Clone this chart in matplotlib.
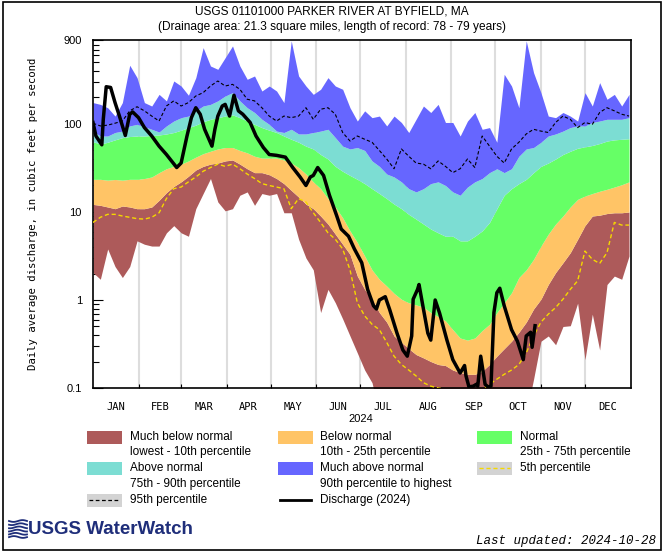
import numpy as np
import matplotlib
matplotlib.use("Agg")
import matplotlib.pyplot as plt
from matplotlib.patches import Rectangle
from matplotlib.lines import Line2D
from matplotlib import font_manager

# ---------------- data (day of year 2024, cfs) ----------------
days = list(range(1, 367, 5))

q_max = [175,167,153,123,175,465,336,175,160,217,183,308,270,212,336,737,456,418,567,770,456,322,351,237,270,
         237,175,880,351,270,217,248,336,270,248,153,108,141,118,123,95,123,104,80,113,160,135,167,104,
         104,73,108,135,87,91,62,367,270,153,880,383,227,123,118,135,123,108,227,160,295,191,217,160,217]
q_p95 = [102,95,97,102,108,141,157,141,123,108,160,183,160,175,208,227,270,308,270,282,248,191,183,153,123,
         108,123,118,123,153,113,147,153,129,80,64,73,67,62,50,40,31,52,43,36,35,31,38,33,
         28,31,40,32,73,56,43,36,52,62,77,87,83,80,104,123,113,91,104,99,135,153,141,129,123]
q_p90 = [83,73,73,80,83,95,99,93,87,81,95,108,118,123,141,160,167,183,208,227,183,153,135,113,99,
         83,80,87,77,77,80,83,87,70,56,52,54,50,38,33,27,25,22,18.4,16.9,18.4,21,22,20,
         16.9,15.5,19.2,22,24,28,31,28,31,43,52,54,62,73,77,83,91,95,95,104,108,113,113,113,118]
q_p75 = [63,59,62,66,70,72,73,73,74,75,77,80,85,91,97,106,113,118,123,127,118,108,99,91,85,
         80,73,67,62,56,52,45,40,33,29,26,23.5,21,18.4,16.2,14.2,12.3,10.9,9.4,8.3,7.3,6.4,5.8,5.3,
         5.3,4.7,4.7,5.3,6.1,7.6,10.9,15.5,18.4,21,23.5,28,33,36,40,45,49,53,55,57,60,64,66,67,68]
q_p25 = [23.5,23.5,23,23.4,23,23.5,23.5,24,25,28,31,33,35,38,42,46,49,52,54,54,50,47,43,41,41,
         41,39,36,32,27,22,18.4,14.2,11.4,8.6,6.1,4.5,3.16,2.2,1.72,1.44,1.19,1.02,0.93,0.88,0.83,0.72,0.65,0.58,
         0.46,0.37,0.35,0.37,0.45,0.53,0.72,0.93,1.21,1.8,2.2,2.9,4.1,5.6,7.3,9.0,11.4,13.9,15.2,16.2,17.2,18.1,19.2,20.4,22]
q_p10 = [12.2,11.9,11.4,10.9,11.7,11.4,10.9,10.9,11.4,13.6,16.6,19.5,22,25.5,30,33,35,36,38,39,35,31,28,28,26.5,
         24,21,17.6,14.8,12.3,10.9,9.0,7.3,5.6,4.3,3.3,1.87,1.32,1.02,0.72,0.56,0.39,0.33,0.28,0.24,0.22,0.20,0.185,0.18,
         0.16,0.15,0.143,0.143,0.155,0.185,0.23,0.28,0.34,0.43,0.56,0.79,1.02,1.5,2.05,2.65,3.45,4.9,7.0,9.0,9.2,9.6,9.8,9.8,10]
q_p05 = [7.6,8.7,9.4,9.4,9.0,8.7,8.4,8.3,8.7,9.8,14.2,18.4,19.2,22,25,29,32,35,33,35,31,27,24,21,20,
         19.2,18.4,10.9,14.2,13,9.8,7.6,5.8,4.9,3.8,2.2,0.93,0.66,0.53,0.46,0.33,0.23,0.185,0.16,0.137,0.115,0.105,0.1,0.097,
         0.075,0.078,0.081,0.089,0.097,0.11,0.126,0.143,0.16,0.185,0.25,0.39,0.56,0.69,0.82,1.02,1.32,1.65,3.6,2.9,2.6,3.45,7.6,7.1,7.1]
q_min = [2.05,1.72,3.8,2.4,1.8,2.4,4.7,4.3,4.1,4.1,5.8,7.0,5.8,5.3,10.9,16.2,24,13,10.3,10.9,15.5,16.9,11.9,16.2,15.5,
         16.2,9.8,9.8,4.9,3.0,2.2,0.72,1.32,0.93,0.61,0.39,0.25,0.16,0.115,0.05,0.05,0.05,0.05,0.05,0.05,0.05,0.05,0.05,0.05,
         0.05,0.05,0.05,0.05,0.05,0.05,0.05,0.05,0.05,0.05,0.05,0.126,0.34,0.39,0.31,0.5,0.51,0.92,0.21,0.69,0.27,1.5,1.87,1.72,3.16]

flow_days = [1,3,7,8,10,13,16,19,23,26,28,32,36,41,46,51,58,61,65,68,71,74,77,82,84,86,89,91,94,97,
             100,103,108,112,117,121,126,132,137,142,146,149,151,154,158,162,167,170,175,179,
             184,188,192,194,196,200,203,208,212,215,218,219,222,223,226,229,231,234,237,242,
             246,251,254,255,257,260,262,263,265,268,270,272,274,276,278,281,286,290,294,296,299,300,302]
flow_cfs = [104,73,58,113,265,260,175,123,74,129,137,118,91,73,56,45,32,36,73,118,153,129,87,56,87,123,160,167,123,212,
            141,129,104,73,54,45,44,42,32,25,20,25,26,32,26,15.5,9.0,6.4,5.3,3.8,
            2.65,1.32,0.86,0.79,1.0,1.09,0.78,0.42,0.27,0.23,0.39,1.02,1.32,1.5,0.79,0.42,0.35,1.0,0.71,0.35,
            0.21,0.148,0.18,0.137,0.103,0.105,0.11,0.105,0.23,0.11,0.103,0.105,0.72,1.21,1.36,0.86,0.46,0.34,0.21,0.39,0.43,0.29,0.51]

month_names = ["JAN","FEB","MAR","APR","MAY","JUN","JUL","AUG","SEP","OCT","NOV","DEC"]
month_starts = [1,32,61,92,122,153,183,214,245,275,306,336,367]
y_ticks = [0.1, 1, 10, 100, 900]
y_ticklabels = ["0.1", "1", "10", "100", "900"]

# ---------------- colours ----------------
C_MUCHBELOW = "#AD5A5A"
C_BELOW = "#FFC466"
C_NORMAL = "#66FF66"
C_ABOVE = "#7CDDD3"
C_MUCHABOVE = "#6666FF"
C_P05 = "#F5D800"

W, H = 666, 555
fig = plt.figure(figsize=(W/100, H/100), dpi=100)
fig.patch.set_facecolor("white")

ax = fig.add_axes([93/W, 1-388/H, (630.5-93)/W, (388-40)/H])
ax.set_yscale("log")
ax.set_xlim(1, 367)
ax.set_ylim(0.1, 900)

ax.fill_between(days, q_min, q_p10, color=C_MUCHBELOW, lw=0, zorder=2)
ax.fill_between(days, q_p10, q_p25, color=C_BELOW, lw=0, zorder=2)
ax.fill_between(days, q_p25, q_p75, color=C_NORMAL, lw=0, zorder=2)
ax.fill_between(days, q_p75, q_p90, color=C_ABOVE, lw=0, zorder=2)
ax.fill_between(days, q_p90, q_max, color=C_MUCHABOVE, lw=0, zorder=2)
ax.plot(days, q_p05, color=C_P05, lw=1.0, ls=(0, (3, 2)), zorder=3)
ax.plot(days, q_p95, color="black", lw=0.8, ls=(0, (3, 2)), zorder=3)
ax.plot(flow_days, flow_cfs, color="black", lw=2.5, zorder=4, solid_joinstyle="round")

# grid and ticks
for d in month_starts[1:-1]:
    ax.axvline(d, color="#DDDDDD", lw=1.5, zorder=0)
ax.set_xticks(month_starts[1:-1])
ax.set_xticklabels([])
ax.set_xticks([(month_starts[i]+month_starts[i+1])/2 for i in range(12)], minor=True)
ax.set_xticklabels(month_names, minor=True, fontfamily="DejaVu Sans Mono", fontsize=7.5)
ax.tick_params(axis="x", which="major", direction="in", length=3, width=0.8)
ax.tick_params(axis="x", which="minor", length=0, pad=10)

ax.set_yticks(y_ticks)
ax.set_yticklabels(y_ticklabels, fontfamily="Liberation Sans", fontsize=8)
minor = [m*10.0**e for e in range(-1, 3) for m in range(2, 10) if m*10.0**e < 900]
ax.set_yticks(minor, minor=True)
ax.yaxis.set_minor_formatter(matplotlib.ticker.NullFormatter())
ax.tick_params(axis="y", which="major", direction="in", length=7, width=0.8, pad=8)
ax.tick_params(axis="y", which="minor", direction="in", length=4, width=0.8)
for s in ax.spines.values():
    s.set_linewidth(1.2)
ax.set_ylabel("Daily average discharge, in cubic feet per second",
              fontfamily="DejaVu Sans Mono", fontsize=7.7)
ax.yaxis.set_label_coords(-(93-38)/(630.5-93), 0.5)

# ---------------- overlay for texts, legend, frame ----------------
ov = fig.add_axes([0, 0, 1, 1], zorder=5)
ov.set_xlim(0, W)
ov.set_ylim(H, 0)
ov.axis("off")
ov.patch.set_alpha(0)

ov.add_patch(Rectangle((3, 2), 658, 548, fill=False, ec="black", lw=1.2))

ov.text(332, 12, "USGS 01101000 PARKER RIVER AT BYFIELD, MA", ha="center", va="center",
        fontfamily="Liberation Sans", fontsize=8.6)
ov.text(332, 27, "(Drainage area: 21.3 square miles, length of record: 78 - 79 years)", ha="center",
        va="center", fontfamily="Liberation Sans", fontsize=8.6)
ov.text(361, 419, "2024", ha="center", va="center", fontfamily="Liberation Sans", fontsize=8)

def legend_patch(x, y, color):
    ov.add_patch(Rectangle((x, y-6.5), 35, 13, fc=color, ec="none"))

def legend_line(x, y, color, ls, lw, bg=True):
    if bg:
        ov.add_patch(Rectangle((x, y-6.5), 35, 13, fc="#D3D3D3", ec="none"))
    ov.add_line(Line2D([x+2, x+33], [y, y], color=color, ls=ls, lw=lw))

def legend_text(x, y, lines):
    for i, t in enumerate(lines):
        ov.text(x, y + i*15.5, t, ha="left", va="center", fontfamily="Liberation Sans", fontsize=8.5)

cols = [87, 278, 477]
rows = [437, 468, 500]
legend_patch(cols[0], rows[0], C_MUCHBELOW)
legend_text(cols[0]+43, rows[0], ["Much below normal", "lowest - 10th percentile"])
legend_patch(cols[1], rows[0], C_BELOW)
legend_text(cols[1]+42, rows[0], ["Below normal", "10th - 25th percentile"])
legend_patch(cols[2], rows[0], C_NORMAL)
legend_text(cols[2]+43, rows[0], ["Normal", "25th - 75th percentile"])
legend_patch(cols[0], rows[1], C_ABOVE)
legend_text(cols[0]+43, rows[1], ["Above normal", "75th - 90th percentile"])
legend_patch(cols[1], rows[1], C_MUCHABOVE)
legend_text(cols[1]+42, rows[1], ["Much above normal", "90th percentile to highest"])
legend_line(cols[2], rows[1], C_P05, (0, (3, 2)), 1.0)
legend_text(cols[2]+43, rows[1], ["5th percentile"])
legend_line(cols[0], rows[2], "black", (0, (3, 2)), 0.9)
legend_text(cols[0]+43, rows[2], ["95th percentile"])
legend_line(cols[1], rows[2], "black", "-", 2.0, bg=False)
legend_text(cols[1]+42, rows[2], ["Discharge (2024)"])

# logo
NAVY = "#1F2E7A"
for k in range(6):
    yy = 521 + k*3.2
    xs = np.linspace(9, 27, 20)
    ov.plot(xs, yy + 0.9*np.sin((xs-9)/18*2*np.pi + k*0.6), color=NAVY, lw=1.3)
names = {f.name for f in font_manager.fontManager.ttflist}
if "Liberation Sans Narrow" in names:
    logo_font, logo_size = "Liberation Sans Narrow", 16
else:
    logo_font, logo_size = "Liberation Sans", 13.5
ov.text(28, 530, "USGS WaterWatch", ha="left", va="center", fontfamily=logo_font,
        fontweight="bold", fontsize=logo_size, color=NAVY)

ov.text(656, 541, "Last updated: 2024-10-28", ha="right", va="center", fontfamily="Liberation Mono",
        fontstyle="italic", fontsize=9)

fig.savefig("out.png", dpi=100, facecolor="white")
